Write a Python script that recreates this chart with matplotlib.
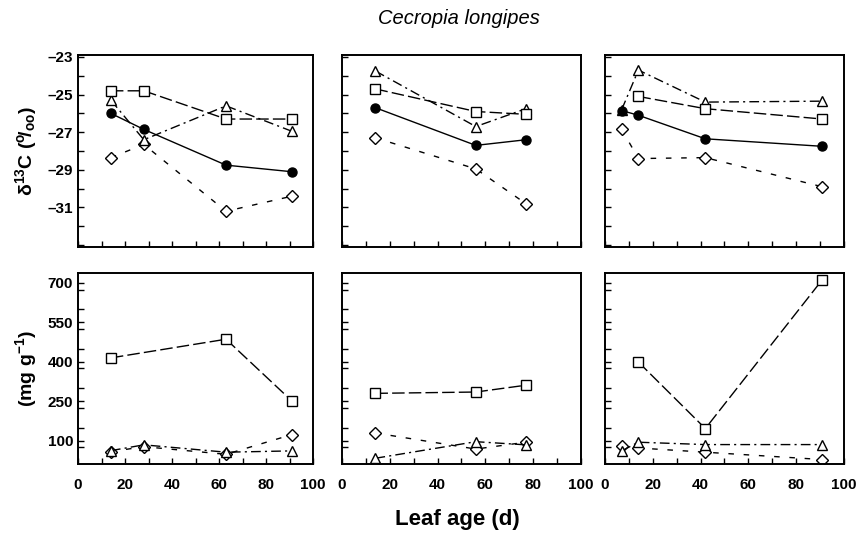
import matplotlib
matplotlib.use("Agg")
import matplotlib.pyplot as plt
from matplotlib.ticker import MultipleLocator

plt.rcParams['font.family'] = ['Liberation Sans', 'DejaVu Sans']
plt.rcParams['mathtext.fontset'] = 'custom'
plt.rcParams['mathtext.rm'] = 'Liberation Sans:bold'
plt.rcParams['mathtext.it'] = 'Liberation Sans:bold'
plt.rcParams['mathtext.bf'] = 'Liberation Sans:bold'

# leaf age (d) for each panel column
age_a = [14, 28, 63, 91]
age_b = [14, 56, 77]
age_c = [7, 14, 42, 91]
age_c_sq = [14, 42, 91]

# top row: delta 13C
d13c_circle = [[-26.0, -26.85, -28.75, -29.1],
               [-25.7, -27.7, -27.4],
               [-25.85, -26.1, -27.35, -27.75]]
d13c_square = [[-24.8, -24.8, -26.3, -26.3],
               [-24.7, -25.9, -26.05],
               [-25.1, -25.75, -26.3]]
d13c_triangle = [[-25.3, -27.4, -25.6, -26.95],
                 [-23.75, -26.7, -25.75],
                 [-25.8, -23.7, -25.4, -25.35]]
d13c_diamond = [[-28.35, -27.65, -31.2, -30.4],
                [-27.3, -28.95, -30.8],
                [-26.85, -28.4, -28.35, -29.9]]

# bottom row: mg g-1
mg_square = [[415, 486, 251],
             [280, 285, 311],
             [399, 146, 713]]
mg_triangle = [[62, 84, 56, 61],
               [33, 96, 84],
               [61, 94, 85, 85]]
mg_diamond = [[58, 77, 48, 123],
              [129, 68, 94],
              [78, 72, 56, 28]]

ages = [age_a, age_b, age_c]
sq_ages_top = [age_a, age_b, age_c_sq]
sq_ages_bot = [[14, 63, 91], age_b, age_c_sq]

fig = plt.figure(figsize=(8.63, 5.37), dpi=100)

lefts = [0.0904, 0.3963, 0.701]
widths = [0.2723, 0.2769, 0.2769]

st_circle = dict(color='black', lw=1.0, ls='-', marker='o', ms=6.5,
                 mfc='black', mec='black')
st_square = dict(color='black', lw=1.0, ls=(0, (9, 3)), marker='s', ms=7,
                 mfc='white', mec='black', mew=1.0)
st_triangle = dict(color='black', lw=1.0, ls=(0, (7, 3, 1.5, 3)), marker='^', ms=7,
                   mfc='white', mec='black', mew=1.0)
st_diamond = dict(color='black', lw=1.0, ls=(0, (4, 7)), marker='D', ms=6.5,
                  mfc='white', mec='black', mew=1.0)


def style_axes(ax):
    for s in ax.spines.values():
        s.set_linewidth(1.4)
    ax.xaxis.set_major_locator(MultipleLocator(20))
    ax.xaxis.set_minor_locator(MultipleLocator(10))
    ax.tick_params(which='both', direction='in', length=4, width=1,
                   top=False, right=False, labelsize=11)


for i in range(3):
    ax = fig.add_axes([lefts[i], 0.540, widths[i], 0.3575])
    ax.plot(ages[i], d13c_diamond[i], **st_diamond, zorder=2)
    ax.plot(ages[i], d13c_triangle[i], **st_triangle, zorder=3)
    ax.plot(sq_ages_top[i], d13c_square[i], **st_square, zorder=4)
    ax.plot(ages[i], d13c_circle[i], **st_circle, zorder=5)
    ax.set_xlim(0, 100)
    ax.set_ylim(-33.1, -22.9)
    ax.yaxis.set_minor_locator(MultipleLocator(1))
    style_axes(ax)
    ax.set_yticks([-23, -25, -27, -29, -31])
    ax.set_xticklabels([])
    if i > 0:
        ax.set_yticklabels([])
    else:
        ax.set_yticklabels(['\u2013%d' % v for v in [23, 25, 27, 29, 31]],
                           fontweight='bold')
        ax.set_ylabel('δ$^{13}$C ($^{o}\\!/_{oo}$)', fontsize=14,
                      fontweight='bold', labelpad=6)

for i in range(3):
    ax = fig.add_axes([lefts[i], 0.1359, widths[i], 0.3557])
    ax.plot(ages[i], mg_diamond[i], **st_diamond, zorder=2)
    ax.plot(ages[i], mg_triangle[i], **st_triangle, zorder=3)
    ax.plot(sq_ages_bot[i], mg_square[i], **st_square, zorder=4)
    ax.set_xlim(0, 100)
    ax.set_ylim(11, 738)
    ax.yaxis.set_minor_locator(MultipleLocator(75))
    style_axes(ax)
    ax.set_yticks([100, 250, 400, 550, 700])
    ax.set_xticks([0, 20, 40, 60, 80, 100])
    ax.set_xticklabels(['0', '20', '40', '60', '80', '100'], fontweight='bold')
    ax.tick_params(axis='x', pad=10)
    if i > 0:
        ax.set_yticklabels([])
    else:
        ax.set_yticklabels(['100', '250', '400', '550', '700'], fontweight='bold')
        ax.set_ylabel('(mg g$^{-1}$)', fontsize=14, fontweight='bold', labelpad=6)

fig.text(0.532, 0.965, 'Cecropia longipes', ha='center', va='center',
         fontsize=14.5, style='italic')
fig.text(0.53, 0.032, 'Leaf age (d)', ha='center', va='center',
         fontsize=16, fontweight='bold')

fig.savefig('out.png', dpi=100)
